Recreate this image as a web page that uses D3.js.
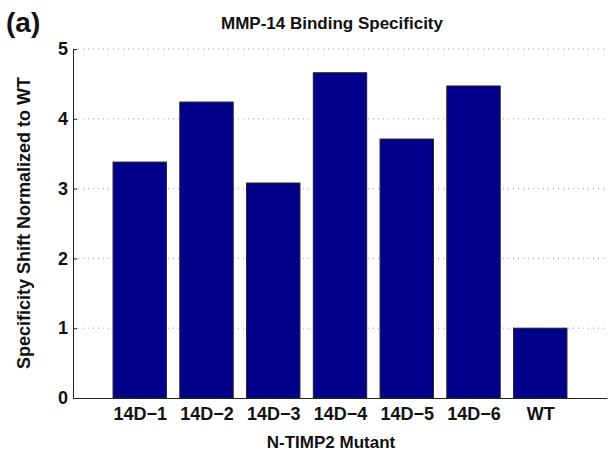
<!DOCTYPE html>
<html>
<head>
<meta charset="utf-8">
<script src="https://cdn.jsdelivr.net/npm/d3@7"></script>
<style>
  html, body { margin: 0; padding: 0; background: #fff; }
  svg { display: block; }
  text { font-family: "Liberation Sans", Arial, Helvetica, sans-serif; font-weight: bold; fill: #111; }
</style>
</head>
<body>
<svg id="chart" width="608" height="454"></svg>
<script>
// Mutant names and their specificity shift relative to wild type
const mutants = ["14D\u22121", "14D\u22122", "14D\u22123", "14D\u22124", "14D\u22125", "14D\u22126", "WT"];
const shift = [3.38, 4.24, 3.08, 4.66, 3.71, 4.47, 1.0];
const yTicks = [0, 1, 2, 3, 4, 5];

const svg = d3.select("#chart");
const plotLeft = 73, plotRight = 607, plotTop = 49, plotBottom = 398;

// Bars sit at positions 1..7 on a 0..8 axis, each 0.8 units wide
const x = d3.scaleLinear().domain([0, mutants.length + 1]).range([plotLeft, plotRight]);
const y = d3.scaleLinear().domain([0, 5]).range([plotBottom, plotTop]);
const barW = 0.8;

// Dotted horizontal grid
svg.append("g")
  .selectAll("line")
  .data(yTicks.filter(d => d > 0))
  .join("line")
  .attr("x1", plotLeft).attr("x2", plotRight)
  .attr("y1", d => y(d)).attr("y2", d => y(d))
  .attr("stroke", "#999")
  .attr("stroke-width", 1)
  .attr("stroke-dasharray", "1,4");

// Bars
svg.append("g")
  .selectAll("rect")
  .data(shift)
  .join("rect")
  .attr("x", (d, i) => x(i + 1 - barW / 2))
  .attr("width", x(barW) - x(0))
  .attr("y", d => y(d))
  .attr("height", d => y(0) - y(d))
  .attr("fill", "#00008a")
  .attr("stroke", "#222")
  .attr("stroke-width", 1);

// Y axis
const yAxis = svg.append("g")
  .attr("transform", `translate(${plotLeft},0)`)
  .call(d3.axisLeft(y).tickValues(yTicks).tickFormat(d3.format("d")).tickSizeInner(-4).tickSizeOuter(0).tickPadding(5));
yAxis.select(".domain").attr("stroke", "#222");
yAxis.selectAll(".tick line").attr("stroke", "#222");
yAxis.selectAll(".tick text")
  .attr("font-size", 18).attr("font-family", null).attr("fill", "#111");

// X axis
const xAxis = svg.append("g")
  .attr("transform", `translate(0,${plotBottom})`)
  .call(d3.axisBottom(x).tickValues(d3.range(1, mutants.length + 1))
    .tickFormat(d => mutants[d - 1]).tickSizeInner(0).tickSizeOuter(0).tickPadding(9));
xAxis.select(".domain").attr("stroke", "#222");
xAxis.selectAll(".tick text")
  .attr("font-size", 18).attr("font-family", null).attr("fill", "#111");

// Titles and labels
svg.append("text")
  .attr("x", 332).attr("y", 29)
  .attr("text-anchor", "middle")
  .attr("font-size", 17)
  .text("MMP-14 Binding Specificity");

svg.append("text")
  .attr("x", 331).attr("y", 448)
  .attr("text-anchor", "middle")
  .attr("font-size", 17)
  .text("N-TIMP2 Mutant");

svg.append("text")
  .attr("transform", "translate(30,223) rotate(-90)")
  .attr("text-anchor", "middle")
  .attr("font-size", 18)
  .text("Specificity Shift Normalized to WT");

svg.append("text")
  .attr("x", 6).attr("y", 32)
  .attr("font-size", 28)
  .text("(a)");
</script>
</body>
</html>
